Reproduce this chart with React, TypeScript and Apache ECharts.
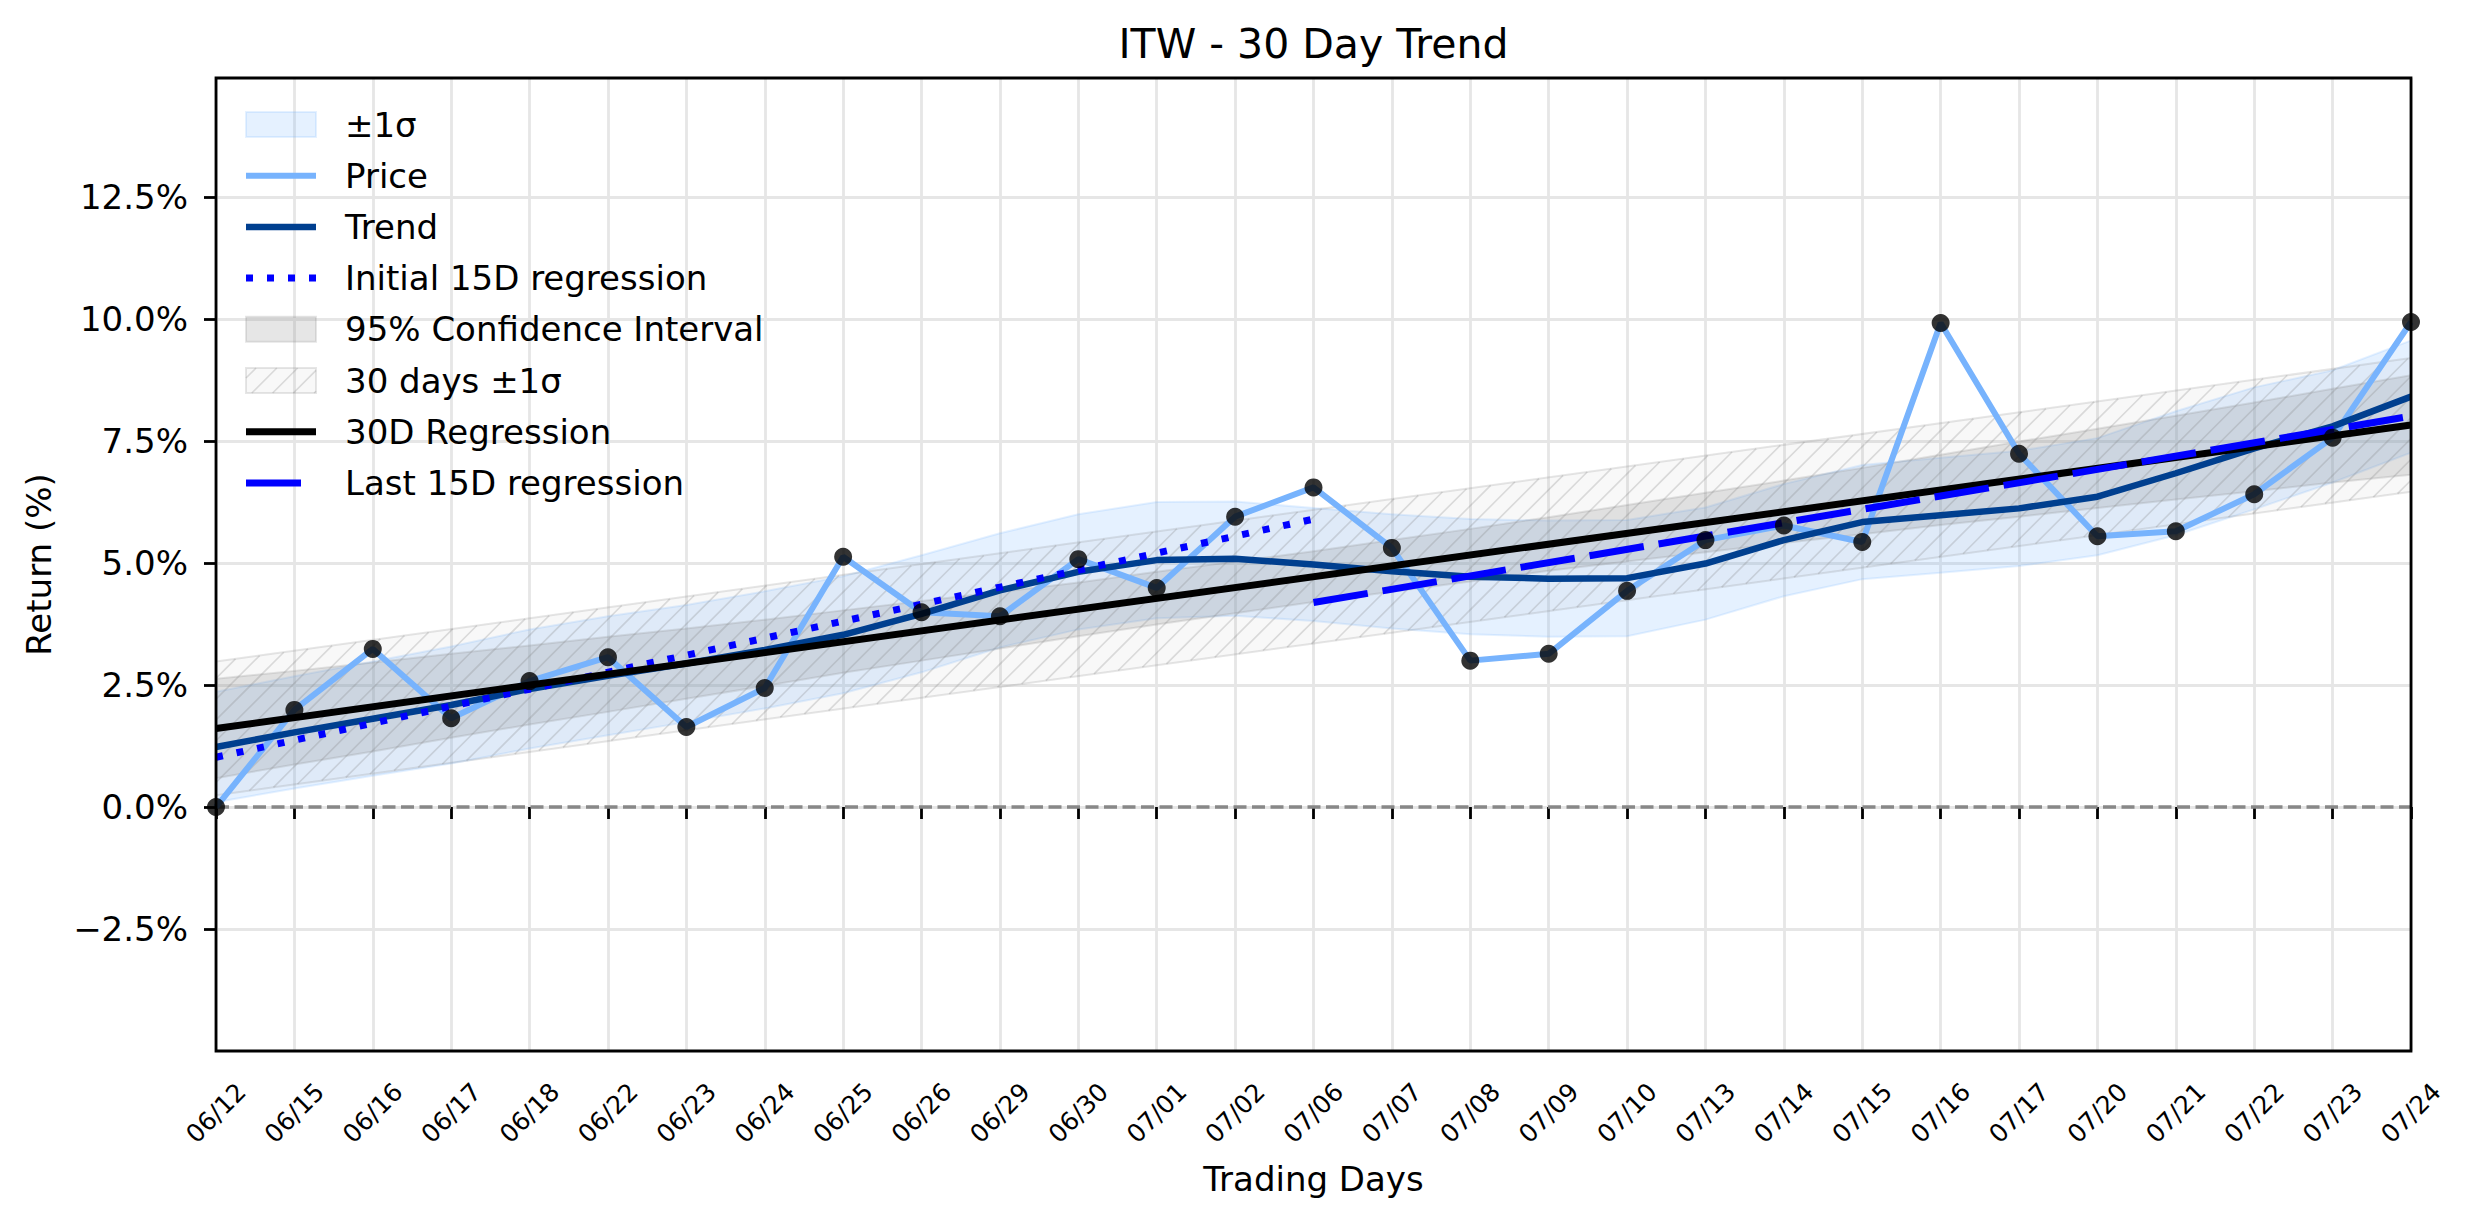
import React, { useEffect, useRef } from "react";
import * as echarts from "echarts";

const FONT = "DejaVu Sans";

// Trading days on the x axis
const dates = [
  "06/12", "06/15", "06/16", "06/17", "06/18", "06/22", "06/23", "06/24", "06/25", "06/26",
  "06/29", "06/30", "07/01", "07/02", "07/06", "07/07", "07/08", "07/09", "07/10", "07/13",
  "07/14", "07/15", "07/16", "07/17", "07/20", "07/21", "07/22", "07/23", "07/24",
];

// Cumulative return (%) per trading day
const price = [
  0.0, 1.99, 3.24, 1.82, 2.58, 3.07, 1.64, 2.44, 5.13, 3.99,
  3.91, 5.08, 4.49, 5.95, 6.55, 5.31, 3.0, 3.14, 4.43, 5.47,
  5.77, 5.43, 9.92, 7.24, 5.55, 5.65, 6.41, 7.57, 9.94,
];

// Smoothed trend (%)
const trend = [
  1.23, 1.53, 1.81, 2.09, 2.42, 2.69, 2.94, 3.22, 3.53, 3.96,
  4.44, 4.82, 5.06, 5.09, 4.97, 4.83, 4.72, 4.68, 4.69, 4.99,
  5.47, 5.84, 5.98, 6.12, 6.36, 6.84, 7.35, 7.8, 8.41,
];

// Rolling standard deviation around the trend (%)
const sigma = [
  1.13, 1.15, 1.17, 1.2, 1.22, 1.22, 1.2, 1.2, 1.2, 1.2,
  1.17, 1.18, 1.19, 1.17, 1.16, 1.17, 1.18, 1.19, 1.19, 1.15,
  1.15, 1.17, 1.18, 1.18, 1.2, 1.27, 1.25, 1.15, 1.15,
];

// 95% confidence interval of the 30-day regression (%)
const ci95Upper = [
  2.63, 2.79, 2.96, 3.14, 3.31, 3.49, 3.66, 3.84, 4.03, 4.22,
  4.41, 4.6, 4.82, 5.03, 5.24, 5.47, 5.7, 5.94, 6.19, 6.44,
  6.69, 6.95, 7.22, 7.49, 7.75, 8.02, 8.29, 8.57, 8.85,
];
const ci95Lower = [
  0.59, 0.87, 1.14, 1.42, 1.69, 1.95, 2.22, 2.48, 2.75, 3.0,
  3.25, 3.5, 3.74, 3.97, 4.2, 4.41, 4.62, 4.84, 5.03, 5.22,
  5.41, 5.59, 5.78, 5.95, 6.13, 6.3, 6.47, 6.65, 6.81,
];

// Straight lines: values at their first and last day
const regression30 = [1.61, 7.83]; // days 0 → 28
const band30Upper = [2.98, 9.2]; // days 0 → 28
const band30Lower = [0.24, 6.46]; // days 0 → 28
const initial15 = [1.02, 5.9]; // days 0 → 14
const last15 = [4.19, 8.01]; // days 14 → 28

const yTicks = [-2.5, 0, 2.5, 5, 7.5, 10, 12.5];

const legendLabels = [
  "±1σ",
  "Price",
  "Trend",
  "Initial 15D regression",
  "95% Confidence Interval",
  "30 days ±1σ",
  "30D Regression",
  "Last 15D regression",
];

const COLORS = {
  sigmaFill: "rgba(110,175,255,0.18)",
  price: "#77b3fd",
  trend: "#003f8f",
  blue: "#0000ff",
  ciFill: "rgba(128,128,128,0.2)",
  hatchFill: "rgba(128,128,128,0.06)",
  hatchLine: "rgba(128,128,128,0.26)",
  hatchEdge: "rgba(128,128,128,0.2)",
  grid: "#e6e6e6",
  zero: "#888888",
};

const GRID = { left: 216, top: 78, right: 63, bottom: 173 };
const W = 2474;
const H = 1224;
const HATCH_STEP = 20.8;
const TOP_Z = 100;

// "/" hatch segments clipped to the region between a top and a bottom straight edge
function hatchSegments(
  x0: number, x1: number,
  yTop0: number, yTop1: number,
  yBot0: number, yBot1: number,
  step: number
) {
  const mt = (yTop1 - yTop0) / (x1 - x0);
  const mb = (yBot1 - yBot0) / (x1 - x0);
  const segs: number[][] = [];
  const cMin = x0 + Math.min(yTop0, yTop1) - step;
  const cMax = x1 + Math.max(yBot0, yBot1) + step;
  for (let c = Math.floor(cMin / step) * step; c <= cMax; c += step) {
    const xTop = (c - yTop0 + mt * x0) / (1 + mt);
    const xBot = (c - yBot0 + mb * x0) / (1 + mb);
    const xa = Math.max(xBot, x0);
    const xb = Math.min(xTop, x1);
    if (xb > xa) segs.push([xa, c - xa, xb, c - xb]);
  }
  return segs;
}

function polygonBand(upper: number[][], lower: number[][], fill: string, stroke: string, hatch: boolean) {
  return (params: any, api: any) => {
    const up = upper.map((p) => api.coord(p));
    const lo = lower.map((p) => api.coord(p));
    const points = up.concat(lo.slice().reverse());
    const children: any[] = [
      {
        type: "polygon",
        shape: { points },
        style: { fill, stroke, lineWidth: 2 },
      },
    ];
    if (hatch) {
      const segs = hatchSegments(
        up[0][0], up[up.length - 1][0],
        up[0][1], up[up.length - 1][1],
        lo[0][1], lo[lo.length - 1][1],
        HATCH_STEP
      );
      segs.forEach((s) =>
        children.push({
          type: "line",
          shape: { x1: s[0], y1: s[1], x2: s[2], y2: s[3] },
          style: { stroke: COLORS.hatchLine, lineWidth: 1.6 },
        })
      );
    }
    return { type: "group", children };
  };
}

function buildLegend() {
  const x0 = 246;
  const hw = 70;
  const textX = 345;
  const rowY0 = 124.5;
  const rowGap = 51.2;
  const items: any[] = [];
  legendLabels.forEach((label, i) => {
    const y = rowY0 + rowGap * i;
    const line = (stroke: string, width: number, dash?: number[], x2 = x0 + hw) => ({
      type: "line",
      z: TOP_Z,
      silent: true,
      shape: { x1: x0, y1: y, x2, y2: y },
      style: dash
        ? { stroke, lineWidth: width, lineDash: dash, lineCap: "butt" }
        : { stroke, lineWidth: width, lineCap: "butt" },
    });
    const patch = (fill: string, stroke: string) => ({
      type: "rect",
      z: TOP_Z,
      silent: true,
      shape: { x: x0, y: y - 12.5, width: hw, height: 25 },
      style: { fill, stroke, lineWidth: 2 },
    });
    if (i === 0) items.push(patch(COLORS.sigmaFill, COLORS.sigmaFill));
    if (i === 1) items.push(line(COLORS.price, 6));
    if (i === 2) items.push(line(COLORS.trend, 6.5));
    if (i === 3) items.push(line(COLORS.blue, 7, [7, 14]));
    if (i === 4) items.push(patch(COLORS.ciFill, COLORS.ciFill));
    if (i === 5) {
      items.push(patch(COLORS.hatchFill, COLORS.hatchEdge));
      hatchSegments(x0, x0 + hw, y - 12.5, y - 12.5, y + 12.5, y + 12.5, HATCH_STEP).forEach((s) =>
        items.push({
          type: "line",
          z: TOP_Z,
          silent: true,
          shape: { x1: s[0], y1: s[1], x2: s[2], y2: s[3] },
          style: { stroke: COLORS.hatchLine, lineWidth: 1.6 },
        })
      );
    }
    if (i === 6) items.push(line("#000000", 7));
    if (i === 7) items.push(line(COLORS.blue, 7, undefined, x0 + 55));
    items.push({
      type: "text",
      z: TOP_Z,
      silent: true,
      x: textX,
      y,
      style: {
        text: label,
        fontSize: 34,
        fontFamily: FONT,
        fill: "#000",
        textAlign: "left",
        textVerticalAlign: "middle",
      },
    });
  });
  return items;
}

export default function App() {
  const ref = useRef<HTMLDivElement>(null);

  useEffect(() => {
    if (!ref.current) return;
    const chart = echarts.init(ref.current, undefined, { renderer: "svg" });
    const last = dates.length - 1;
    const idx = dates.map((_, i) => i);

    const sigmaUpper = idx.map((i) => [i, trend[i] + sigma[i]]);
    const sigmaLower = idx.map((i) => [i, trend[i] - sigma[i]]);
    const ciUp = idx.map((i) => [i, ci95Upper[i]]);
    const ciLo = idx.map((i) => [i, ci95Lower[i]]);
    const hUp = [[0, band30Upper[0]], [last, band30Upper[1]]];
    const hLo = [[0, band30Lower[0]], [last, band30Lower[1]]];

    const plotW = W - GRID.left - GRID.right;
    const plotH = H - GRID.top - GRID.bottom;

    const lineSeries = (name: string, data: number[][], color: string, width: number, z: number, type: any = "solid") => ({
      name,
      type: "line",
      data,
      z,
      showSymbol: false,
      symbol: "none",
      silent: true,
      lineStyle: { color, width, type, cap: "butt" },
    });

    const option: any = {
      animation: false,
      backgroundColor: "#ffffff",
      textStyle: { fontFamily: FONT },
      grid: { left: GRID.left, top: GRID.top, right: GRID.right, bottom: GRID.bottom, containLabel: false },
      xAxis: {
        type: "value",
        min: 0,
        max: last,
        interval: 1,
        name: "Trading Days",
        nameLocation: "middle",
        nameGap: 111,
        nameTextStyle: { fontSize: 34, color: "#000", fontFamily: FONT },
        axisLine: { show: false },
        axisTick: { show: true, length: 12, lineStyle: { color: "#000", width: 2.8 } },
        axisLabel: {
          rotate: 45,
          fontSize: 25,
          color: "#000",
          fontFamily: FONT,
          margin: 62,
          align: "center",
          verticalAlign: "middle",
          showMinLabel: true,
          showMaxLabel: true,
          formatter: (v: number) => dates[Math.round(v)] ?? "",
        },
        splitLine: { show: true, lineStyle: { color: COLORS.grid, width: 2.8 } },
      },
      yAxis: {
        type: "value",
        min: -5,
        max: 14.94,
        interval: 2.5,
        name: "Return (%)",
        nameLocation: "middle",
        nameGap: 160,
        nameTextStyle: { fontSize: 34, color: "#000", fontFamily: FONT },
        axisLine: { show: false },
        axisTick: {
          show: true,
          length: 12,
          customValues: yTicks,
          lineStyle: { color: "#000", width: 2.8 },
        },
        axisLabel: {
          fontSize: 34,
          color: "#000",
          fontFamily: FONT,
          margin: 28,
          customValues: yTicks,
          formatter: (v: number) => (v < 0 ? "\u2212" : "") + Math.abs(v).toFixed(1) + "%",
        },
        splitLine: { show: true, lineStyle: { color: COLORS.grid, width: 2.8 } },
      },
      series: [
        {
          name: "±1σ",
          type: "custom",
          z: 1,
          silent: true,
          clip: true,
          data: [[0, 0]],
          renderItem: polygonBand(sigmaUpper, sigmaLower, COLORS.sigmaFill, COLORS.sigmaFill, false),
        },
        {
          name: "95% Confidence Interval",
          type: "custom",
          z: 1,
          silent: true,
          clip: true,
          data: [[0, 0]],
          renderItem: polygonBand(ciUp, ciLo, COLORS.ciFill, COLORS.ciFill, false),
        },
        {
          name: "30 days ±1σ",
          type: "custom",
          z: 1,
          silent: true,
          clip: true,
          data: [[0, 0]],
          renderItem: polygonBand(hUp, hLo, COLORS.hatchFill, COLORS.hatchEdge, true),
        },
        {
          name: "zero",
          type: "line",
          data: [[0, 0], [last, 0]],
          z: 2,
          showSymbol: false,
          symbol: "none",
          silent: true,
          lineStyle: { color: COLORS.zero, width: 3.5, type: [13, 5.5], cap: "butt" },
        },
        lineSeries("Price", idx.map((i) => [i, price[i]]), COLORS.price, 6, 3),
        lineSeries("Trend", idx.map((i) => [i, trend[i]]), COLORS.trend, 6.5, 4),
        lineSeries("Initial 15D regression", [[0, initial15[0]], [14, initial15[1]]], COLORS.blue, 7, 5, [7, 14]),
        lineSeries("30D Regression", [[0, regression30[0]], [last, regression30[1]]], "#000000", 7, 6),
        lineSeries("Last 15D regression", [[14, last15[0]], [last, last15[1]]], COLORS.blue, 7, 7, [55, 15]),
        {
          name: "points",
          type: "scatter",
          z: 8,
          silent: true,
          symbol: "circle",
          symbolSize: 18,
          itemStyle: { color: "#000000" },
          data: idx.map((i) => [i, price[i]]),
        },
      ],
      graphic: [
        {
          type: "text",
          z: TOP_Z,
          x: GRID.left + plotW / 2,
          y: 44,
          style: {
            text: "ITW - 30 Day Trend",
            fontSize: 41,
            fontFamily: FONT,
            fill: "#000",
            textAlign: "center",
            textVerticalAlign: "middle",
          },
        },
        {
          type: "rect",
          z: TOP_Z,
          silent: true,
          shape: { x: GRID.left, y: GRID.top, width: plotW, height: plotH },
          style: { fill: "none", stroke: "#000", lineWidth: 2.8 },
        },
        ...buildLegend(),
      ],
    };

    chart.setOption(option);
    return () => chart.dispose();
  }, []);

  return (
    <div
      ref={ref}
      style={{ position: "fixed", left: 0, top: 0, width: W, height: H, background: "#fff" }}
    />
  );
}
